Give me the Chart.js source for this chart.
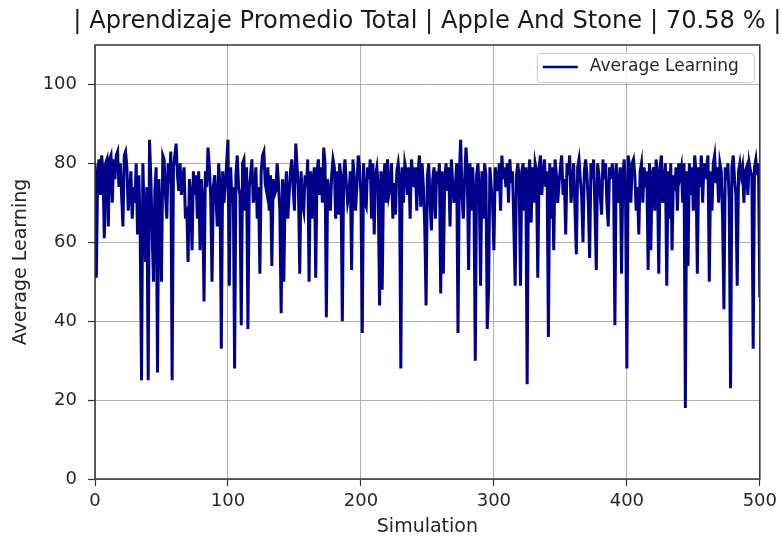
<!DOCTYPE html>
<html lang="es">
<head>
    <meta charset="UTF-8">
    <title>Aprendizaje Promedio Total</title>
    <script src="https://cdn.jsdelivr.net/npm/chart.js"></script>
    <style>
        html, body { margin: 0; padding: 0; background: #fff; }
        #wrap { width: 782px; height: 537px; }
    </style>
</head>
<body>
    <div id="wrap"><canvas id="myChart" width="782" height="537"></canvas></div>
    <script>
        // average learning per simulation
        const learning = [
            80, 51, 77, 81, 72, 82, 78, 61, 80, 81,
            64, 81, 82, 70, 81, 76, 82, 83, 74, 80,
            72, 64, 82, 83, 79, 68, 72, 78, 66, 74,
            70, 80, 62, 77, 62, 25, 80, 66, 55, 74,
            25, 86, 76, 62, 50, 73, 79, 27, 76, 68,
            50, 82, 81, 72, 66, 80, 75, 83, 25, 79,
            82, 85, 77, 73, 80, 72, 76, 79, 66, 69,
            55, 76, 72, 58, 78, 72, 77, 66, 78, 58,
            76, 70, 45, 78, 74, 84, 79, 72, 50, 74,
            77, 71, 64, 80, 74, 33, 78, 70, 74, 80,
            86, 49, 79, 70, 74, 28, 77, 82, 74, 72,
            39, 80, 81, 68, 79, 38, 74, 77, 81, 70,
            72, 79, 66, 74, 52, 78, 82, 83, 75, 73,
            79, 68, 77, 54, 76, 72, 73, 80, 75, 68,
            42, 76, 50, 73, 78, 66, 72, 78, 81, 74,
            68, 85, 79, 74, 52, 78, 70, 68, 77, 74,
            81, 50, 78, 66, 76, 79, 51, 78, 81, 72,
            79, 70, 84, 80, 41, 76, 72, 68, 77, 81,
            79, 66, 78, 67, 80, 76, 40, 77, 81, 75,
            70, 72, 78, 53, 81, 76, 68, 75, 82, 79,
            72, 37, 80, 70, 69, 79, 76, 81, 66, 80,
            62, 77, 79, 74, 44, 78, 48, 76, 80, 70,
            81, 72, 74, 80, 66, 75, 67, 78, 80, 76,
            28, 79, 70, 80, 78, 72, 79, 66, 81, 77,
            74, 79, 68, 78, 82, 69, 80, 74, 64, 44,
            77, 80, 70, 63, 76, 79, 66, 78, 75, 80,
            47, 78, 52, 76, 80, 73, 79, 64, 81, 75,
            70, 74, 80, 37, 77, 86, 72, 66, 76, 84,
            78, 53, 80, 68, 79, 72, 30, 77, 80, 73,
            49, 78, 66, 80, 77, 38, 48, 79, 74, 70,
            58, 79, 76, 73, 80, 68, 82, 76, 79, 74,
            80, 70, 81, 75, 78, 64, 49, 77, 80, 76,
            49, 78, 80, 68, 79, 24, 77, 81, 65, 79,
            70, 80, 78, 51, 79, 82, 72, 77, 81, 74,
            78, 36, 80, 66, 79, 58, 81, 77, 70, 75,
            79, 82, 72, 76, 62, 80, 77, 82, 70, 75,
            80, 68, 57, 79, 81, 76, 72, 60, 78, 81,
            77, 70, 56, 80, 76, 81, 68, 53, 80, 77,
            72, 67, 81, 76, 80, 70, 64, 79, 76, 80,
            77, 39, 80, 70, 75, 79, 52, 77, 81, 72,
            28, 82, 79, 70, 80, 81, 77, 68, 74, 62,
            78, 80, 70, 79, 74, 78, 53, 80, 58, 77,
            79, 68, 81, 77, 52, 79, 82, 70, 75, 80,
            49, 78, 66, 80, 58, 77, 73, 79, 68, 80,
            77, 79, 70, 80, 18, 78, 54, 80, 72, 79,
            68, 82, 78, 52, 79, 74, 82, 70, 80, 76,
            79, 82, 50, 78, 68, 80, 82, 75, 79, 70,
            80, 78, 66, 43, 79, 76, 80, 70, 23, 79,
            82, 76, 72, 49, 78, 80, 77, 79, 70, 78,
            79, 72, 80, 78, 77, 33, 79, 81, 77, 80,
            46
        ];
        const simulations = learning.map((v, i) => i);
        const xTicks = [0, 100, 200, 300, 400, 500];
        const yTicks = [0, 20, 40, 60, 80, 100];

        const titleText = '| Aprendizaje Promedio Total | Apple And Stone | 70.58 % |';
        const seriesLabel = 'Average Learning';
        const lineColor = '#00008b';
        const font = 'DejaVu Sans';

        // matplotlib-ish box around the axes, title over the plot, legend box in the corner
        const framePlugin = {
            id: 'frame',
            afterDatasetsDraw(chart) {
                const a = chart.chartArea;
                const ctx = chart.ctx;
                ctx.save();
                ctx.strokeStyle = '#333';
                ctx.lineWidth = 1.5;
                ctx.strokeRect(a.left, a.top, a.right - a.left, a.bottom - a.top);
                ctx.restore();
            },
            afterDraw(chart) {
                const ctx = chart.ctx;
                const a = chart.chartArea;
                ctx.save();
                // title (the built-in one squeezes text to the box width)
                ctx.fillStyle = '#1a1a1a';
                ctx.font = '24.2px "' + font + '"';
                ctx.textAlign = 'center';
                ctx.textBaseline = 'middle';
                ctx.fillText(titleText, (a.left + a.right) / 2, 22);

                const x0 = a.right - 223, y0 = a.top + 8, w = 217, h = 29;
                ctx.fillStyle = 'rgba(255,255,255,0.8)';
                ctx.strokeStyle = '#cccccc';
                ctx.lineWidth = 1;
                ctx.beginPath();
                ctx.roundRect(x0 + 0.5, y0 + 0.5, w, h, 3);
                ctx.fill();
                ctx.stroke();
                ctx.strokeStyle = lineColor;
                ctx.lineWidth = 2.5;
                ctx.beginPath();
                ctx.moveTo(x0 + 6, y0 + 14);
                ctx.lineTo(x0 + 41, y0 + 14);
                ctx.stroke();
                ctx.fillStyle = '#262626';
                ctx.font = '17px "' + font + '"';
                ctx.textAlign = 'left';
                ctx.fillText(chart.data.datasets[0].label, x0 + 53, y0 + 14);
                ctx.restore();
            }
        };

        const ctx = document.getElementById('myChart').getContext('2d');
        new Chart(ctx, {
            type: 'line',
            data: {
                datasets: [{
                    label: seriesLabel,
                    data: learning.map((v, i) => ({ x: simulations[i], y: v })),
                    borderColor: lineColor,
                    backgroundColor: lineColor,
                    borderWidth: 3,
                    pointRadius: 0,
                    tension: 0,
                    fill: false
                }]
            },
            options: {
                responsive: false,
                animation: false,
                layout: { padding: { left: 0, right: 19, top: 45, bottom: 0 } },
                plugins: {
                    legend: { display: false },
                    tooltip: { enabled: false },
                    title: { display: false }
                },
                scales: {
                    x: {
                        type: 'linear',
                        min: 0,
                        max: 500,
                        afterFit: s => { s.height = 58; },
                        afterBuildTicks: s => { s.ticks = xTicks.map(v => ({ value: v })); },
                        grid: { color: '#b0b0b0', lineWidth: 1, tickLength: 7, tickColor: '#333', tickWidth: 1.2 },
                        border: { display: false },
                        ticks: { color: '#262626', padding: 5, maxRotation: 0, font: { family: font, size: 18 } },
                        title: {
                            display: true,
                            text: 'Simulation',
                            color: '#262626',
                            font: { family: font, size: 19, lineHeight: 1.0 },
                            padding: { top: 0, bottom: 0 }
                        }
                    },
                    y: {
                        min: 0,
                        max: 110,
                        afterFit: s => { s.width = 95; },
                        afterBuildTicks: s => { s.ticks = yTicks.map(v => ({ value: v })); },
                        grid: { color: '#b0b0b0', lineWidth: 1, tickLength: 7, tickColor: '#333', tickWidth: 1.2 },
                        border: { display: false },
                        ticks: { color: '#262626', padding: 11, font: { family: font, size: 18 } },
                        title: {
                            display: true,
                            text: 'Average Learning',
                            color: '#262626',
                            font: { family: font, size: 19, lineHeight: 1.0 },
                            padding: { top: 12, bottom: 0 }
                        }
                    }
                }
            },
            plugins: [framePlugin]
        });
    </script>
</body>
</html>
